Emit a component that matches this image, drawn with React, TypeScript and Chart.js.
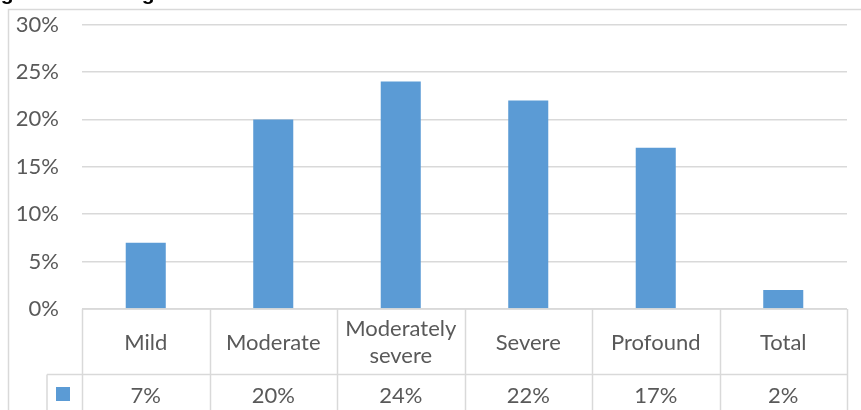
import React, { useEffect, useRef } from "react";
import { Chart, registerables } from "chart.js";

Chart.register(...registerables);

// Hearing-loss degree categories and the share of respondents in each (percent)
const categories: string[][] = [
  ["Mild"],
  ["Moderate"],
  ["Moderately", "severe"],
  ["Severe"],
  ["Profound"],
  ["Total"],
];
const shares = [7, 20, 24, 22, 17, 2];
const yMin = 0;
const yMax = 30;
const yStep = 5;
const caption = "Figure 3: Hearing loss";

const BAR_COLOR = "#5b9bd5";
const LINE_COLOR = "#d9d9d9";
const TEXT_COLOR = "#595959";
const FONT_FAMILY = "Lato, 'Noto Sans', sans-serif";
const FONT_SIZE = 22;

// Draws the white page, outer frame and the caption above the chart
const framePlugin = {
  id: "frame",
  beforeDraw(chart: Chart) {
    const { ctx, width, height } = chart;
    ctx.save();
    ctx.fillStyle = "#ffffff";
    ctx.fillRect(0, 0, width, height);
    ctx.strokeStyle = LINE_COLOR;
    ctx.lineWidth = 1.5;
    ctx.strokeRect(8.5, 9.5, width + 50, height + 50);
    ctx.fillStyle = "#000000";
    ctx.font = "bold 21px 'Liberation Sans', Arial, sans-serif";
    ctx.textBaseline = "alphabetic";
    ctx.textAlign = "left";
    ctx.fillText(caption, -18, -0.5);
    ctx.restore();
  },
};

// Data table under the plot: category names, legend key and values
const tablePlugin = {
  id: "dataTable",
  afterDraw(chart: Chart) {
    const { ctx, chartArea } = chart;
    const xScale = chart.scales.x;
    const yScale = chart.scales.y;
    const n = categories.length;
    const colW = (chartArea.right - chartArea.left) / n;
    const y0 = yScale.getPixelForValue(0);
    const y1 = y0 + 65.5;
    const y2 = y1 + 42;
    const keyLeft = 47;

    ctx.save();
    ctx.strokeStyle = LINE_COLOR;
    ctx.lineWidth = 1.5;
    const seg = (ax: number, ay: number, bx: number, by: number) => {
      ctx.beginPath();
      ctx.moveTo(ax, ay);
      ctx.lineTo(bx, by);
      ctx.stroke();
    };
    seg(chartArea.left, y0, chartArea.right, y0);
    seg(keyLeft, y1, chartArea.right, y1);
    seg(keyLeft, y2, chartArea.right, y2);
    seg(keyLeft, y1, keyLeft, y2);
    for (let i = 0; i <= n; i++) {
      const xb = Math.round(chartArea.left + i * colW) + 0.5;
      seg(xb, y0, xb, y2);
    }

    ctx.fillStyle = BAR_COLOR;
    ctx.fillRect(56, 387, 14, 14);

    ctx.fillStyle = TEXT_COLOR;
    ctx.font = `${FONT_SIZE}px ${FONT_FAMILY}`;
    ctx.textAlign = "center";
    ctx.textBaseline = "alphabetic";
    const capHalf = FONT_SIZE * 0.36;
    const lineH = 27;
    categories.forEach((lines, i) => {
      const cx = xScale.getPixelForValue(i);
      const mid = (y0 + y1) / 2;
      lines.forEach((t, k) => {
        const cy = mid + (k - (lines.length - 1) / 2) * lineH;
        ctx.fillText(t, cx, cy + capHalf);
      });
      ctx.fillText(`${shares[i]}%`, cx, 395.5 + capHalf);
    });
    ctx.restore();
  },
};

export default function App() {
  const canvasRef = useRef<HTMLCanvasElement | null>(null);

  useEffect(() => {
    const canvas = canvasRef.current;
    if (!canvas) return;
    const chart = new Chart(canvas, {
      type: "bar",
      data: {
        labels: categories.map((c) => c.join(" ")),
        datasets: [
          {
            data: shares,
            backgroundColor: BAR_COLOR,
            borderWidth: 0,
            categoryPercentage: 1,
            barPercentage: 0.314,
          },
        ],
      },
      options: {
        responsive: false,
        animation: false,
        devicePixelRatio: 1,
        layout: { padding: { top: 24.6, right: 14, bottom: 101, left: 0 } },
        plugins: {
          legend: { display: false },
          tooltip: { enabled: false },
        },
        scales: {
          x: {
            display: false,
            offset: true,
            grid: { display: false },
          },
          y: {
            min: yMin,
            max: yMax,
            border: { display: false },
            grid: { color: LINE_COLOR, lineWidth: 1.5, drawTicks: false },
            ticks: {
              stepSize: yStep,
              padding: 23,
              color: TEXT_COLOR,
              font: { family: FONT_FAMILY, size: FONT_SIZE },
              callback: (v) => `${v}%`,
            },
            afterFit: (scale: any) => {
              scale.width = 82;
              scale.paddingTop = 0;
              scale.paddingBottom = 0;
            },
          },
        },
      },
      plugins: [framePlugin, tablePlugin],
    });
    return () => chart.destroy();
  }, []);

  return (
    <div style={{ position: "absolute", left: 0, top: 0, width: 861, height: 410 }}>
      <canvas ref={canvasRef} width={861} height={410} style={{ display: "block" }} />
    </div>
  );
}
